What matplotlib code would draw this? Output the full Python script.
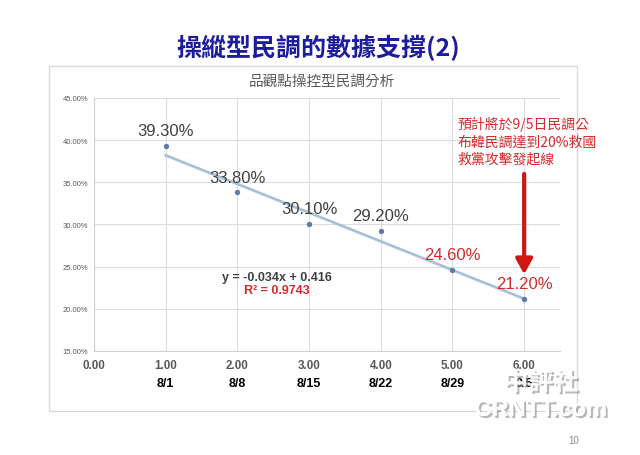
import numpy as np
import matplotlib
matplotlib.use("Agg")
import matplotlib.pyplot as plt
from matplotlib.patches import Rectangle
import matplotlib.patheffects as pe

plt.rcParams['font.family'] = ['Liberation Sans', 'Noto Sans CJK TC', 'DejaVu Sans']

# ---- data ----
x_vals = [1, 2, 3, 4, 5, 6]
y_vals = [0.393, 0.338, 0.301, 0.292, 0.246, 0.212]
point_labels = ["39.30%", "33.80%", "30.10%", "29.20%", "24.60%", "21.20%"]
label_colors = ["#404040", "#404040", "#404040", "#404040", "#d42a2a", "#d42a2a"]
date_labels = ["8/1", "8/8", "8/15", "8/22", "8/29", "9/5"]
x_ticks = [0, 1, 2, 3, 4, 5, 6]
y_ticks = [0.15, 0.20, 0.25, 0.30, 0.35, 0.40, 0.45]

title = "操縱型民調的數據支撐(2)"
chart_title = "品觀點操控型民調分析"
note = "預計將於9/5日民調公\n布韓民調達到20%救國\n救黨攻擊發起線"

cjk = ['Noto Sans CJK TC', 'DejaVu Sans']

fig = plt.figure(figsize=(6.4, 4.56), dpi=100)
fig.patch.set_facecolor('white')

# chart frame
frame = Rectangle((0.0766, 0.0965), 0.825, 0.7566, transform=fig.transFigure,
                  facecolor='white', edgecolor='#d9d9d9', linewidth=1.0, zorder=-5)
fig.patches.append(frame)

fig.text(0.497, 0.895, title, family=cjk, fontsize=18, fontweight='bold',
         color='#1c1c9c', ha='center', va='center')
fig.text(0.503, 0.82, chart_title, family=cjk, fontsize=10.5, color='#595959',
         ha='center', va='center')

ax = fig.add_axes([0.1469, 0.2281, 0.7281, 0.5548])
ax.set_zorder(2)
ax.patch.set_alpha(0)
ax.set_xlim(0, 6.5)
ax.set_ylim(0.15, 0.45)
ax.set_xticks(x_ticks)
ax.set_xticklabels([f"{v:.2f}" for v in x_ticks], fontsize=8.4, fontweight='bold', color='#595959')
ax.set_yticks(y_ticks)
ax.set_yticklabels([f"{v*100:.2f}%" for v in y_ticks], fontsize=5.5, color='#595959')
ax.tick_params(axis='both', length=0)
ax.tick_params(axis='x', pad=6)
ax.tick_params(axis='y', pad=4)
ax.grid(True, color='#dcdcdc', linewidth=0.8)
ax.set_axisbelow(True)
for s in ['top', 'right']:
    ax.spines[s].set_visible(False)
for s in ['left', 'bottom']:
    ax.spines[s].set_color('#d0d0d0')
    ax.spines[s].set_linewidth(0.8)

# trendline from linear fit
slope, intercept = np.polyfit(x_vals, y_vals, 1)
xs = np.array([x_vals[0], x_vals[-1]])
ax.plot(xs, slope * xs + intercept, color='#a9c0d9', linewidth=2.0, zorder=2)
ax.scatter(x_vals, y_vals, s=8, color='#5b7ea6', zorder=3)

for xv, yv, lab, c in zip(x_vals, y_vals, point_labels, label_colors):
    ax.annotate(lab, (xv, yv), xytext=(0, 11), textcoords='offset points',
                ha='center', va='center', fontsize=12, color=c, zorder=4)

for xv, d in zip(x_vals, date_labels):
    ax.annotate(d, (xv, 0), xycoords=('data', 'axes fraction'), xytext=(0, -23),
                textcoords='offset points', ha='center', va='center',
                fontsize=9, fontweight='bold', color='black', annotation_clip=False)

ax.text(2.55, 0.2375, f"y = {slope:.3f}x + {intercept:.3f}", fontsize=9, fontweight='bold',
        color='#404040', ha='center', va='center')
r = np.corrcoef(x_vals, y_vals)[0, 1]
ax.text(2.55, 0.2222, f"R² = {r**2:.4f}", fontsize=9, fontweight='bold',
        color='#d42a2a', ha='center', va='center')

ax.text(5.07, 0.429, note, family=cjk, fontsize=10, fontweight='medium', color='#d42a2a',
        ha='left', va='top', linespacing=1.3)
ax.annotate('', xy=(6, 0.241), xytext=(6, 0.36),
            arrowprops=dict(arrowstyle='-|>,head_width=0.5,head_length=0.9',
                            color='#d01515', lw=3, shrinkA=0, shrinkB=0))

# watermark (semi-transparent)
wm = [pe.withSimplePatchShadow(offset=(1.5, -1.5), shadow_rgbFace='#888888', alpha=0.6), pe.Normal()]
fig.text(0.845, 0.158, "中評社", family=cjk, fontsize=18, fontweight='bold', color='white',
         alpha=0.8, ha='center', va='center', path_effects=wm, zorder=5)
fig.text(0.845, 0.10, "CRNTT.com", fontsize=17, fontweight='bold', color='white',
         alpha=0.9, ha='center', va='center', path_effects=wm, zorder=5)

fig.text(0.897, 0.033, "10", fontsize=7, color='#8c8c8c', ha='center', va='center')

fig.savefig('out.png', dpi=100, facecolor='white')
